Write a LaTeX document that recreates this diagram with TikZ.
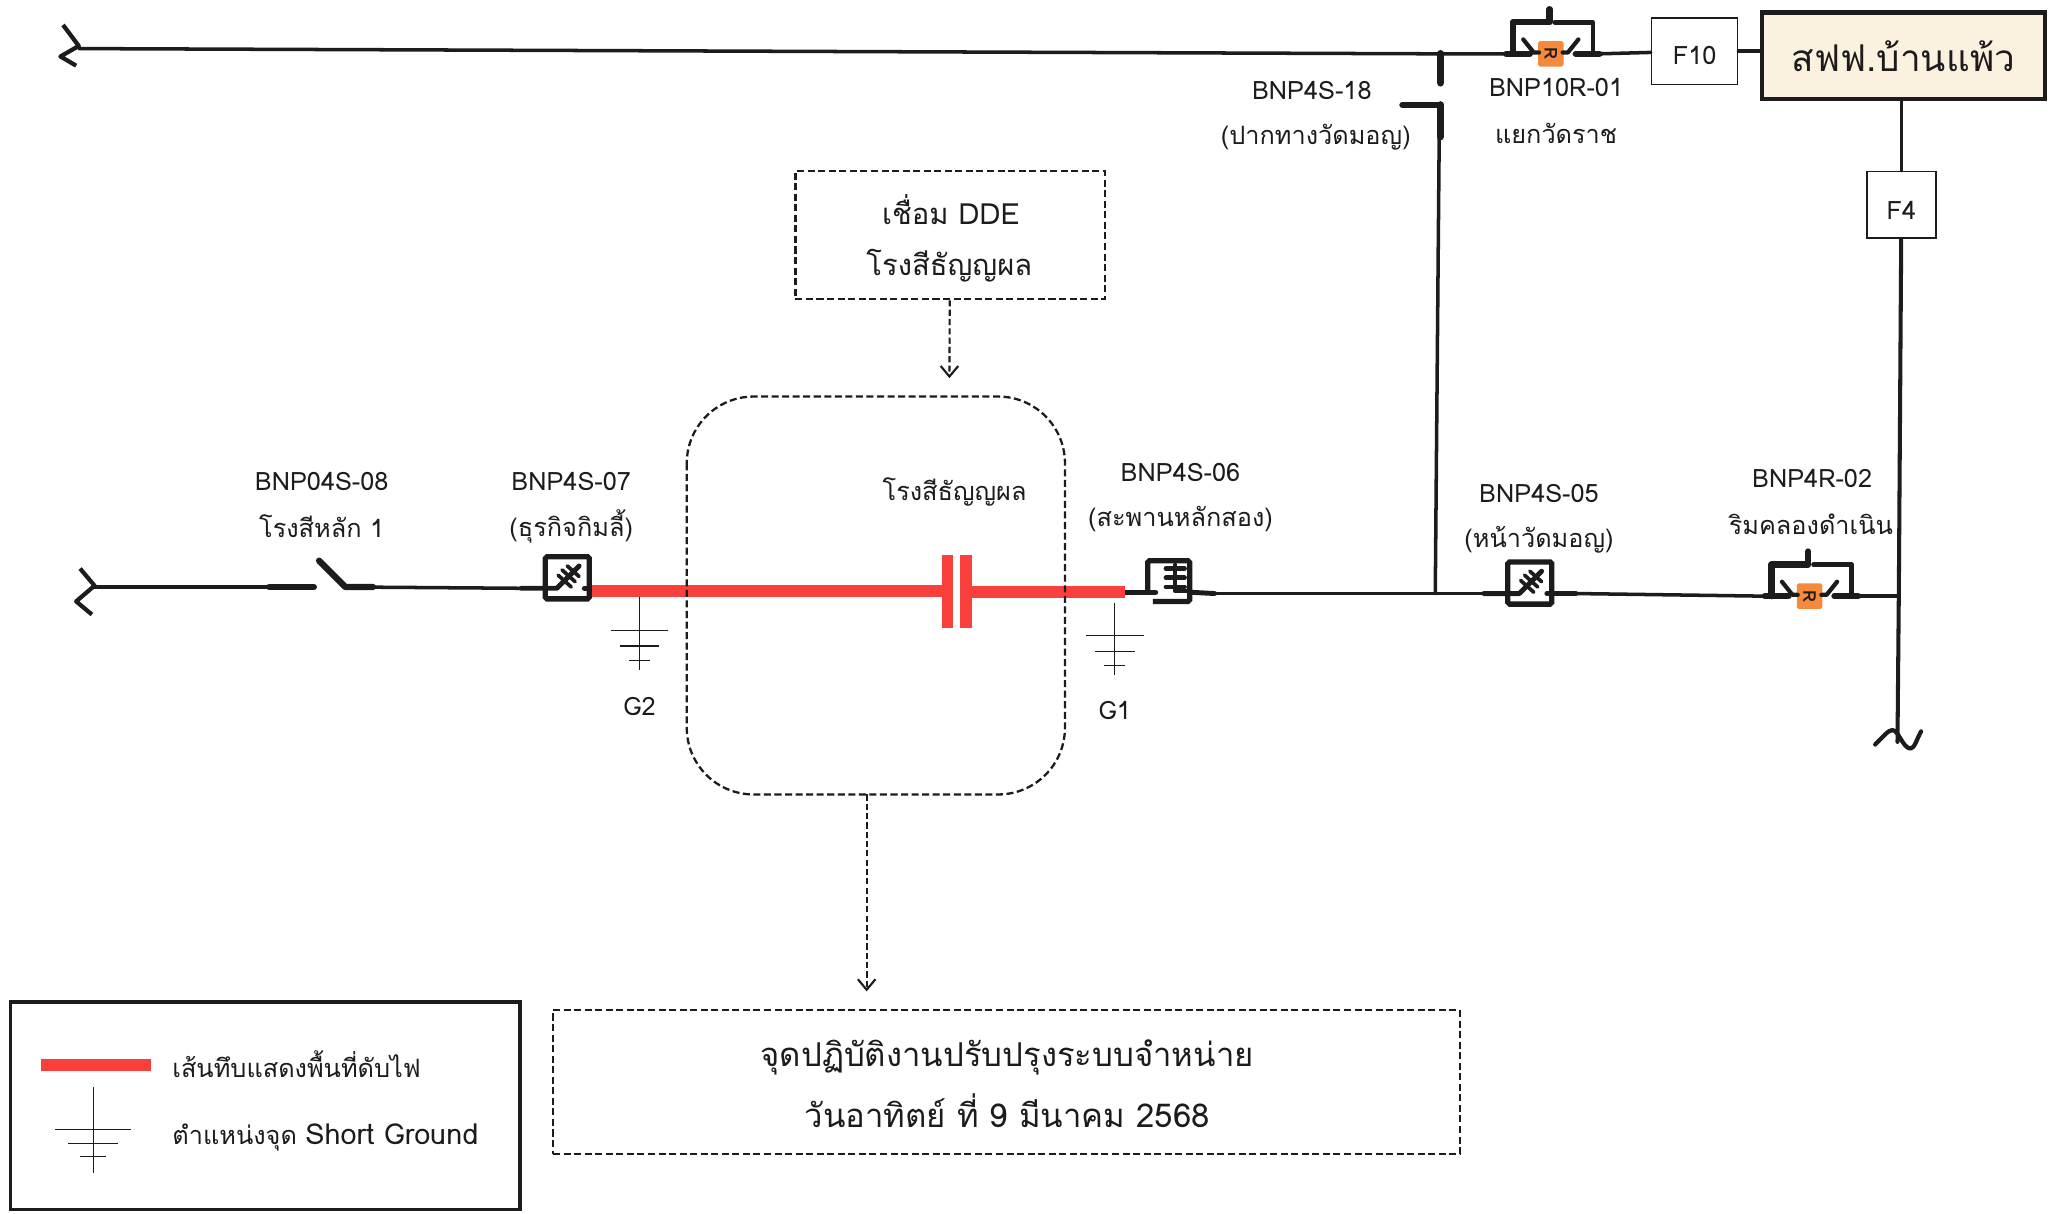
\documentclass[tikz,border=0pt]{standalone}
\usepackage{fontspec}
\setmainfont[Script=Thai]{Loma}
\usetikzlibrary{positioning,arrows.meta}
\definecolor{redline}{HTML}{F9403C}
\definecolor{inkblk}{HTML}{1C1C1C}
\definecolor{sub}{HTML}{FBF1DF}
\definecolor{rbox}{HTML}{F58A3C}
\tikzstyle{wire}=[draw=inkblk,line width=2pt,line cap=round,line join=round]
\tikzstyle{heavy}=[draw=inkblk,line width=3.6pt,line cap=round,line join=round]
\tikzstyle{outage}=[draw=redline,line width=6.8pt]
\tikzstyle{gnd}=[draw=inkblk,line width=.7pt]
\tikzstyle{dbox}=[draw=inkblk,line width=1.3pt,dash pattern=on 4pt off 2pt]
\tikzstyle{lbl}=[text=inkblk,font=\fontsize{14.4}{18}\selectfont,inner sep=0pt]
\tikzstyle{big}=[text=inkblk,font=\fontsize{18.7}{23}\selectfont,inner sep=0pt]
\tikzstyle{fbox}=[draw=inkblk,line width=.9pt,fill=white,text=inkblk,font=\fontsize{14.4}{18}\selectfont,inner sep=0pt]
\tikzstyle{swbox}=[draw=inkblk,line width=3pt,rounded corners=1pt,inner sep=0pt]
\tikzstyle{notearrow}=[draw=inkblk,line width=1.2pt,dash pattern=on 3.5pt off 1.8pt,-{Straight Barb[length=6pt,width=10pt,line width=1.2pt]}]
% recloser: name, centre
\newcommand{\recloser}[2]{
  \begin{scope}[shift={(#2)}]
    \coordinate (#1L) at (-34,0);
    \coordinate (#1R) at (37,0);
    \node [fill=rbox,rounded corners=1pt,minimum size=14.5pt,inner sep=0pt] (#1) at (0,0) {};
    \node [font=\fontsize{10}{10}\selectfont\bfseries,inner sep=0pt,text=inkblk,rotate=-90] at (0,0) {R};
    \draw [heavy] (#1L) -- (-16,0);
    \draw [heavy] (19,0) -- (#1R);
    \draw [wire,line width=2.4pt] (-21,-11) -- (-13,-1) -- (-9,-1);
    \draw [wire,line width=2.4pt] (21,-11) -- (13,-1) -- (9,-1);
    \draw [heavy] (-29,0) -- (-29,-24) -- (-1,-24) -- (-1,-34);
    \draw [wire,line width=2.6pt] (3,-24) -- (32,-24) -- (32,0);
  \end{scope}
}
% insulator sign in a box: name, centre
\newcommand{\loadbreak}[2]{
  \begin{scope}[shift={(#2)}]
    \node [swbox,minimum width=25pt,minimum height=24pt] (#1) at (0,0) {};
    \coordinate (#1L) at (-35,8);
    \coordinate (#1R) at (35,8);
    \draw [heavy,line width=2.8pt] (#1L) -- (-8,8) -- (9,-9);
    \draw [wire,line width=2.1pt] (-7,-2) -- (3,7) (-4,-6) -- (6,3) (0,-9) -- (9,-1);
    \draw [heavy,line width=2.8pt] (13,8) -- (#1R);
  \end{scope}
}
\begin{document}
\begin{tikzpicture}[x=0.02626cm,y=-0.02626cm]
  \path [use as bounding box,fill=white] (0,0) rectangle (1568,924);

  % boxes at the source
  \node [draw=inkblk,line width=2.6pt,fill=sub,minimum width=161pt,minimum height=49pt,inner sep=0pt,text=inkblk,font=\fontsize{21}{25}\selectfont] (Main) at (1449.5,42.5) {สฟฟ.บ้านแพ้ว};
  \node [fbox,minimum width=49pt,minimum height=38pt,text height=15pt,text depth=0pt] (F10) at (1290.5,39) {F10};
  \node [fbox,minimum width=39pt,minimum height=38pt,text height=16.5pt,text depth=0pt] (F4) at (1448,156) {F4};

  % top feeder
  \coordinate (brkA) at (60,37);
  \coordinate (tapTop) at (1097,41);
  \recloser{RA}{1181,41}
  \draw [wire,line width=2.4pt,line cap=butt] (48,19) -- (60,35) -- (46,43) -- (58,50);
  \draw [wire] (brkA) -- (tapTop) -- (RAL);
  \draw [wire] (RAR) -- (F10);
  \draw [wire] (F10) -- (F10-|Main.west);
  \draw [heavy,line width=4.4pt] (tapTop) -- (1097,63);
  \draw [heavy] (1068,80) -- (1097,80);
  \draw [heavy,line width=4.4pt] (1097,80) -- (1097,104);
  \coordinate (tapTwo) at (1096,104);
  \coordinate (tapLow) at (1093,452);
  \draw [wire] (tapTwo) -- (tapLow);

  % right feeder
  \coordinate (brkC) at (1445,565);
  \coordinate (tapEnd) at (1446,454);
  \draw [wire] (Main.south-|F4) -- (F4);
  \draw [wire,line width=2.3pt] (F4) -- (tapEnd) -- (brkC);
  \draw [wire,line width=2.4pt] (1428,567) .. controls (1434,561) and (1438,556) .. (1441,556) .. controls (1446,556) and (1449,570) .. (1455,570) .. controls (1458,570) and (1460,562) .. (1463,557);

  % main line
  \coordinate (brkB) at (72,447);
  \coordinate (swA) at (205,447);
  \coordinate (swB) at (263,447);
  \loadbreak{LA}{432,440}
  \loadbreak{LC}{1165,444}
  \recloser{RB}{1378,454}
  \draw [wire,line width=2.4pt,line cap=butt] (61,433) -- (72,446) -- (58,458) -- (70,468);
  \draw [wire] (brkB) -- (swA);
  \draw [heavy] (swA) -- (239,447);
  \draw [heavy] (243,427) -- (swB) -- (284,447);
  \draw [wire] (swB) -- (LAL);

  % opened box at G1 side
  \node [inner sep=0pt,minimum width=25pt,minimum height=24pt] (LB) at (890,442) {};
  \draw [swbox] (874,451) -- (874,427) -- (906,427) -- (906,458) -- (878,458);
  \draw [wire,line width=3pt] (857,451) -- (880,451);
  \draw [wire,line width=2.4pt] (895,430) -- (895,450) -- (906,450);
  \draw [wire,line width=2.8pt] (888,433) -- (902,433) (888,440) -- (902,440) (888,447) -- (902,447);
  \coordinate (LBR) at (925,452);
  \draw [wire,line width=2.8pt] (906,451) -- (LBR);
  \draw [wire] (LBR) -- (tapLow) -- (LCL);
  \draw [wire] (LCR) -- (RBL);
  \draw [wire] (RBR) -- (tapEnd);

  % outage section
  \coordinate (redA) at (451,450);
  \coordinate (redB) at (857,451);
  \draw [outage] (redA) -- (717,450);
  \draw [outage] (740,451) -- (redB);
  \fill [redline] (717,423) rectangle (726,478);
  \fill [redline] (731,423) rectangle (740,478);

  % short grounds
  \foreach \gx/\gy in {487/455,849/459}{
    \draw [gnd] (\gx,\gy) -- (\gx,\gy+55);
    \draw [gnd] (\gx-22,\gy+25) -- (\gx+22,\gy+25);
    \draw [gnd] (\gx-15,\gy+37) -- (\gx+15,\gy+37);
    \draw [gnd] (\gx-8,\gy+48) -- (\gx+8,\gy+48);
  }

  % dashed notes
  \draw [dbox,rounded corners=38pt] (523,302) rectangle (811,605);
  \coordinate (areaTop) at (723,288);
  \coordinate (areaLow) at (660,605);
  \coordinate (workTop) at (660,755);
  \node [dbox,minimum width=176pt,minimum height=73pt,inner sep=0pt] (Dde) at (723.5,179) {};
  \node [dbox,minimum width=516pt,minimum height=82pt,inner sep=0pt] (Work) at (766.5,824) {};
  \draw [notearrow] (Dde) -- (areaTop);
  \draw [notearrow] (areaLow) -- (workTop);

  % texts
  \node [lbl] (t1) at (245,367) {BNP04S-08};
  \node [lbl] (t2) at (245,401) {โรงสีหลัก 1};
  \node [lbl] (t3) at (435,367) {BNP4S-07};
  \node [lbl] (t4) at (435,401) {(ธุรกิจกิมลี้)};
  \node [lbl] (t5) at (727,375) {โรงสีธัญญผล};
  \node [lbl] (t6) at (899,360) {BNP4S-06};
  \node [lbl] (t7) at (899,395) {(สะพานหลักสอง)};
  \node [lbl] (t8) at (1172,376) {BNP4S-05};
  \node [lbl] (t9) at (1172,411) {(หน้าวัดมอญ)};
  \node [lbl] (t10) at (1380,364) {BNP4R-02};
  \node [lbl] (t11) at (1379,399) {ริมคลองดำเนิน};
  \node [lbl] (t12) at (999,69) {BNP4S-18};
  \node [lbl] (t13) at (1002,104.5) {(ปากทางวัดมอญ)};
  \node [lbl] (t14) at (1185,67) {BNP10R-01};
  \node [lbl] (t15) at (1185,102) {แยกวัดราช};
  \node [lbl] (G2) at (487,538) {G2};
  \node [lbl] (G1) at (849,541) {G1};
  \node [big,font=\fontsize{16.6}{20}\selectfont] (d1) at (724,159.5) {เชื่อม DDE};
  \node [big,font=\fontsize{16.6}{20}\selectfont] (d2) at (723,202) {โรงสีธัญญผล};
  \node [big] (w1) at (767,805) {จุดปฏิบัติงานปรับปรุงระบบจำหน่าย};
  \node [big] (w2) at (767,846) {วันอาทิตย์ ที่ 9 มีนาคม 2568};

  % legend
  \node [draw=inkblk,line width=2pt,minimum width=290pt,minimum height=118pt,inner sep=0pt] (Key) at (202,842) {};
  \draw [outage] (31,811) -- (115,811);
  \draw [gnd] (71,828) -- (71,893);
  \draw [gnd] (42,860) -- (100,860);
  \draw [gnd] (52,871) -- (90,871);
  \draw [gnd] (61,881) -- (81,881);
  \node [lbl,anchor=west] (k1) at (131,810.5) {เส้นทึบแสดงพื้นที่ดับไฟ};
  \node [lbl,anchor=west] (k2) at (131,866) {ตำแหน่งจุด {\fontsize{16.4}{18}\selectfont Short Ground}};
\end{tikzpicture}
\end{document}
